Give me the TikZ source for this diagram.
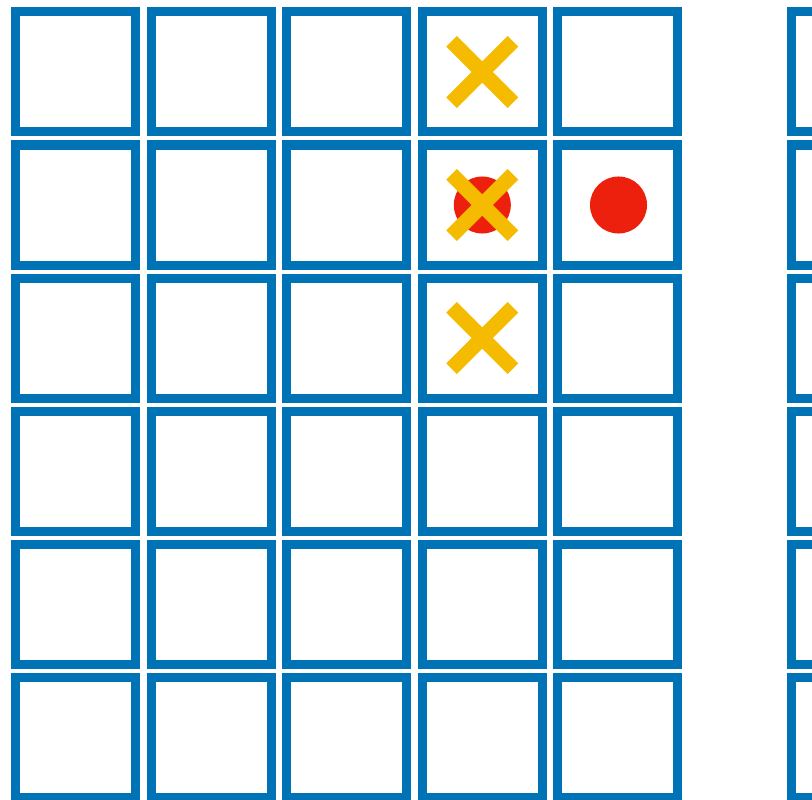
\documentclass[tikz,border=0pt]{standalone}
\usepackage{tikz}
\usepackage{xcolor}
\definecolor{cellblue}{RGB}{0,115,182}
\definecolor{crossyellow}{RGB}{245,187,0}
\definecolor{dotred}{RGB}{237,32,13}

\begin{document}
\begin{tikzpicture}[x=0.01cm, y=-0.01cm]
    \useasboundingbox (0,0) rectangle (812,800);
    \clip (0,0) rectangle (812,800);
    % grid of cells
    \foreach \x in {15.8,151.3,286.8,422.3,557.8,791.2}
        \foreach \y in {11.8,145,278.2,411.4,544.6,677.8}
            \draw[cellblue, line width=0.09cm] (\x,\y) rectangle ++(120,120);
    % red dots
    \fill[dotred] (482.3,205) circle[radius=0.285cm];
    \fill[dotred] (618.5,205) circle[radius=0.285cm];
    % yellow crosses
    \foreach \y in {72,205,338}
        \draw[crossyellow, line width=0.15cm]
            (451.6,\y-30.7) -- (513,\y+30.7)
            (451.6,\y+30.7) -- (513,\y-30.7);
\end{tikzpicture}
\end{document}
